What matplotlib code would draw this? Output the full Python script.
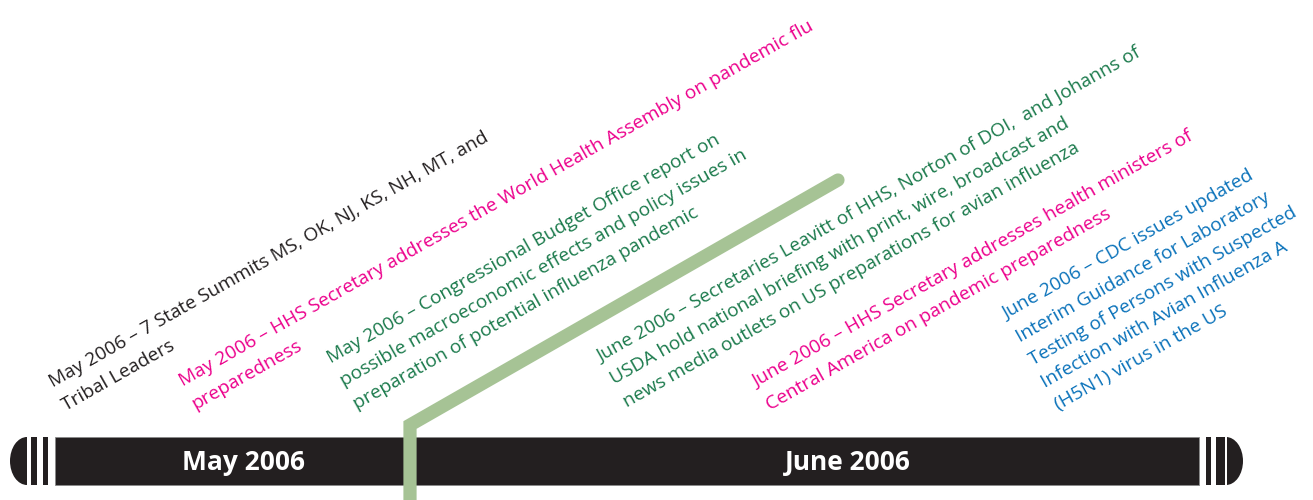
import math
import matplotlib
matplotlib.use("Agg")
import matplotlib.pyplot as plt
from matplotlib.patches import Rectangle, Ellipse

# ---------------- data ----------------
months = ["May 2006", "June 2006"]

event_lines = [
    ["May 2006 \u2013 7 State Summits MS, OK, NJ, KS, NH, MT, and",
     "Tribal Leaders"],
    ["May 2006 \u2013 HHS Secretary addresses the World Health Assembly on pandemic flu",
     "preparedness"],
    ["May 2006 \u2013 Congressional Budget Office report on",
     "possible macroeconomic effects and policy issues in",
     "preparation of potential influenza pandemic"],
    ["June 2006 \u2013 Secretaries Leavitt of HHS, Norton of DOI,  and Johanns of",
     "USDA hold national briefing with print, wire, broadcast and",
     "news media outlets on US preparations for avian influenza"],
    ["June 2006 \u2013 HHS Secretary addresses health ministers of",
     "Central America on pandemic preparedness"],
    ["June 2006 \u2013 CDC issues updated",
     "Interim Guidance for Laboratory",
     "Testing of Persons with Suspected",
     "Infection with Avian Influenza A",
     "(H5N1) virus in the US"],
]
event_kind = ["state", "hhs", "policy", "policy", "hhs", "cdc"]

# ---------------- layout / style ----------------
W, H = 1313, 500
kind_color = {"state": "#231F20", "hhs": "#EC008C", "policy": "#1B7A4C", "cdc": "#0A72BA"}
event_anchor = [(53, 388), (183, 387), (331, 364), (601, 362), (757, 388), (1007, 320)]
angle = 29.5
line_gap = 26
fs = 13.8

month_center_x = [244, 848]
bar_y0, bar_y1 = 437, 485
bar_x0, bar_x1 = 55, 1199
bar_col = "#231F20"

fig = plt.figure(figsize=(W / 100, H / 100), dpi=100)
ax = fig.add_axes([0, 0, 1, 1])
ax.set_xlim(0, W)
ax.set_ylim(H, 0)
ax.axis("off")

# timeline bar
ymid = (bar_y0 + bar_y1) / 2
bh = bar_y1 - bar_y0
ax.add_patch(Rectangle((bar_x0, bar_y0), bar_x1 - bar_x0, bh, facecolor=bar_col,
                       edgecolor="#8a8a8a", linewidth=0.6, zorder=2))
# left cap
ax.add_patch(Ellipse((27, ymid), 34, bh, facecolor=bar_col, edgecolor="none", zorder=2))
ax.add_patch(Rectangle((27, bar_y0), 21.3, bh, facecolor=bar_col, edgecolor="none", zorder=2))
for x0, x1 in [(27, 30.7), (37.3, 42.7)]:
    ax.add_patch(Rectangle((x0, bar_y0 - 1), x1 - x0, bh + 2, facecolor="white",
                           edgecolor="none", zorder=3))
# right cap
ax.add_patch(Ellipse((1226, ymid), 34, bh, facecolor=bar_col, edgecolor="none", zorder=2))
ax.add_patch(Rectangle((1206, bar_y0), 20, bh, facecolor=bar_col, edgecolor="none", zorder=2))
for x0, x1 in [(1211, 1216), (1225, 1226.5)]:
    ax.add_patch(Rectangle((x0, bar_y0 - 1), x1 - x0, bh + 2, facecolor="white",
                           edgecolor="none", zorder=3))

for m, cx in zip(months, month_center_x):
    ax.text(cx, ymid + 1, m, color="white", fontsize=19, fontweight="bold",
            family="Open Sans", ha="center", va="center", zorder=5)

# green "today" marker line
ax.plot([410, 410, 838], [505, 425, 180], color="#A6C395", linewidth=9.5,
        solid_capstyle="round", solid_joinstyle="miter", zorder=4)

# event texts
th = math.radians(angle)
for lines, kind, (x0, y0) in zip(event_lines, event_kind, event_anchor):
    for i, ln in enumerate(lines):
        x = x0 + i * line_gap * math.sin(th)
        y = y0 + i * line_gap * math.cos(th)
        ax.text(x, y, ln, color=kind_color[kind], fontsize=fs, family="Open Sans",
                rotation=angle, rotation_mode="anchor", ha="left", va="baseline",
                zorder=6)

fig.savefig("out.png", dpi=100)
